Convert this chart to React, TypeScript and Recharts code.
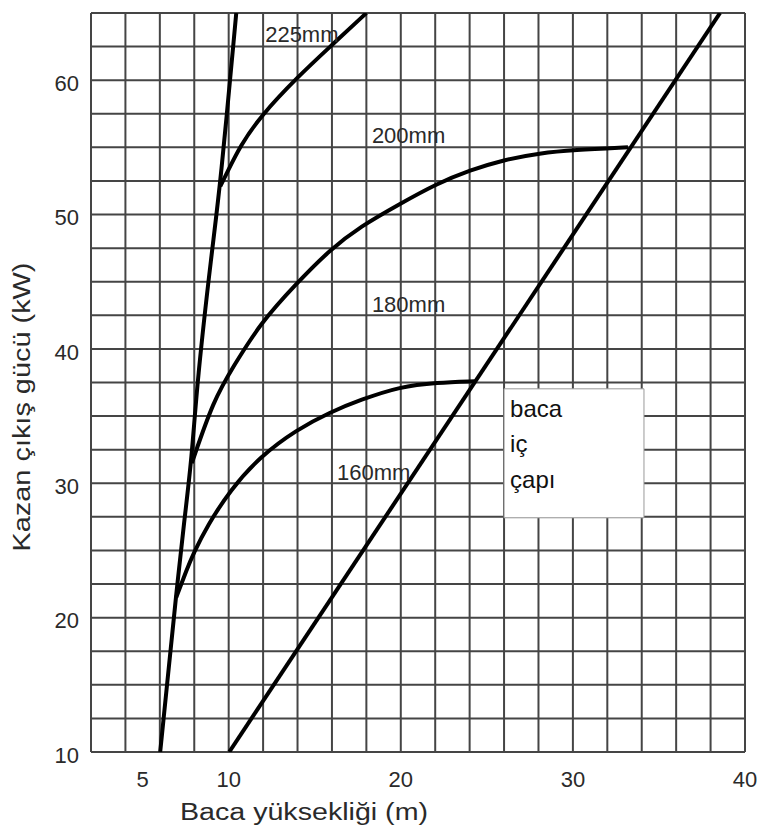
import { LineChart, Line, XAxis, YAxis, CartesianGrid, ReferenceArea, ReferenceDot } from "recharts";

// grid divisions (every 2 m / every 2.5 kW)
const gridX = [2, 4, 6, 8, 10, 12, 14, 16, 18, 20, 22, 24, 26, 28, 30, 32, 34, 36, 38, 40];
const gridY = [10, 12.5, 15, 17.5, 20, 22.5, 25, 27.5, 30, 32.5, 35, 37.5, 40, 42.5, 45, 47.5, 50, 52.5, 55, 57.5, 60, 62.5, 65];

const xTicks = [5, 10, 20, 30, 40];
const yTicks = [10, 20, 30, 40, 50, 60];

// steep limit line on the left
const limitX = [6.02, 6.41, 6.8, 7.0, 7.38, 7.87, 8.16, 9.03, 9.51, 10.44];
const limitY = [10, 14.9, 19.8, 22.3, 26.8, 32, 37.5, 47.4, 52.1, 65];

// 225mm
const d225X = [9.51, 9.9, 10.67, 11.83, 14.05, 15.9, 18.0];
const d225Y = [52.1, 53.1, 55.1, 57.3, 60.3, 62.5, 65];

// 200mm
const d200X = [7.86, 9.12, 10.28, 11.83, 13.96, 15.9, 17.64, 19.96, 22.09, 24.03, 25.96, 28.1, 30.03, 33.2];
const d200Y = [31.5, 36.2, 38.7, 41.9, 44.9, 47.4, 49.1, 50.8, 52.3, 53.3, 54.07, 54.57, 54.8, 55.0];

// 160mm
const d160X = [6.95, 7.57, 7.96, 8.74, 10.09, 11.83, 13.96, 15.9, 17.64, 19.96, 22.09, 24.3];
const d160Y = [21.5, 23.6, 24.8, 26.8, 29.5, 32.0, 34.0, 35.3, 36.2, 37.2, 37.5, 37.6];

// diagonal minimum height line
const diagX = [10.03, 38.55];
const diagY = [10, 65];

const curveLabels = ["225mm", "200mm", "180mm", "160mm"];
const curveLabelX = [12.12, 18.32, 18.32, 16.29];
const curveLabelY = [62.87, 55.31, 42.78, 30.26];

const boxLines = ["baca", "iç", "çapı"];

const toPoints = (xs: number[], ys: number[]) => xs.map((x, i) => ({ x, y: ys[i] }));

const FONT = "'Liberation Sans', Arial, sans-serif";
const TEXT = "#2a2a2a";

const XTick = ({ x, y, payload }: any) => (
  <text x={x} y={y} dy="0.71em" textAnchor="middle" fontSize={22} fill={TEXT} fontFamily={FONT}>
    {payload.value}
  </text>
);

const YTick = ({ x, y, payload }: any) => (
  <text x={x} y={y + 3} dy="0.355em" textAnchor="end" fontSize={22} fill={TEXT} fontFamily={FONT}>
    {payload.value}
  </text>
);

const xTitle = ({ viewBox }: any) => (
  <text x={viewBox.x + 213} y={viewBox.y + 68} textAnchor="middle" fontSize={23} fill={TEXT}
    fontFamily={FONT} textLength={248} lengthAdjust="spacingAndGlyphs">
    Baca yüksekliği (m)
  </text>
);

const yTitle = ({ viewBox }: any) => {
  const cx = viewBox.x + 30;
  const cy = viewBox.y + 394;
  return (
    <text x={cx} y={cy} transform={`rotate(-90, ${cx}, ${cy})`} textAnchor="middle" fontSize={23}
      fill={TEXT} fontFamily={FONT} textLength={289} lengthAdjust="spacingAndGlyphs">
      Kazan çıkış gücü (kW)
    </text>
  );
};

const boxText = ({ viewBox }: any) => (
  <g>
    {boxLines.map((t, i) => (
      <text key={t} x={viewBox.x + 6} y={viewBox.y + 28 + i * 35.5} fontSize={24} fill="#111" fontFamily={FONT}>
        {t}
      </text>
    ))}
  </g>
);

const curve = (xs: number[], ys: number[], kind: "basis" | "linear") => (
  <Line data={toPoints(xs, ys)} dataKey="y" type={kind} stroke="#000" strokeWidth={4}
    dot={false} activeDot={false} isAnimationActive={false} />
);

export default function App() {
  return (
    <div style={{ position: "absolute", left: 0, top: 0, background: "#fff" }}>
      <LineChart width={765} height={834} margin={{ top: 13, right: 20, left: 0, bottom: 0 }}>
        <CartesianGrid stroke="#454545" strokeWidth={2} verticalValues={gridX} horizontalValues={gridY} />
        <XAxis dataKey="x" type="number" domain={[2, 40]} ticks={xTicks} height={82} allowDataOverflow
          axisLine={false} tickLine={false} tickSize={0} tickMargin={19} tick={<XTick />} label={xTitle} />
        <YAxis type="number" domain={[10, 65]} ticks={yTicks} width={91} allowDataOverflow
          axisLine={false} tickLine={false} tickSize={0} tickMargin={12} tick={<YTick />} label={yTitle} />

        <ReferenceArea x1={26.0} x2={34.13} y1={27.43} y2={37.03} fill="#fff" fillOpacity={1}
          stroke="#9a9a9a" strokeWidth={1} label={boxText} />

        {curveLabels.map((t, i) => (
          <ReferenceDot key={t} x={curveLabelX[i]} y={curveLabelY[i]} r={0}
            shape={(p: any) => (
              <text x={p.cx} y={p.cy} fontSize={22} fill={TEXT} fontFamily={FONT}>{t}</text>
            )} />
        ))}

        {curve(limitX, limitY, "basis")}
        {curve(d225X, d225Y, "basis")}
        {curve(d200X, d200Y, "basis")}
        {curve(d160X, d160Y, "basis")}
        {curve(diagX, diagY, "linear")}
      </LineChart>
    </div>
  );
}
